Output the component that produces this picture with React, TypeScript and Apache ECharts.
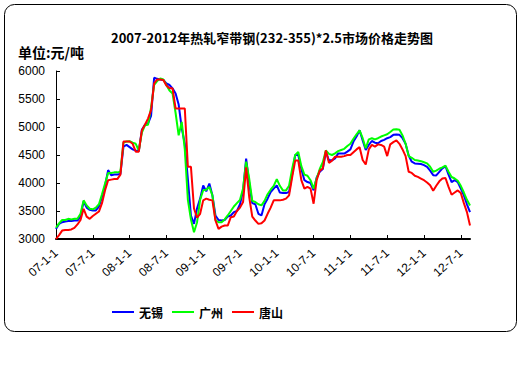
import React, { useEffect, useRef } from "react";
import * as echarts from "echarts";

const titleText = "2007-2012年热轧窄带钢(232-355)*2.5市场价格走势图";
const unitText = "单位:元/吨";
const seriesNames = ["无锡", "广州", "唐山"];
const seriesColors = ["#0000FF", "#00FF00", "#FF0000"];
const years = [2007, 2008, 2009, 2010, 2011, 2012];
const lastIndex = 135;
const yMin = 3000;
const yMax = 6000;
const yStep = 500;

// half-monthly values, 2007-01-01 .. 2012-09-16
const wuxi = [
  3180, 3270, 3300, 3310, 3320, 3320, 3330, 3330, 3400, 3670, 3560, 3520, 3510, 3510, 3580, 3750, 3950, 4230, 4140, 4150, 4150, 4160, 4650, 4680,
  4640, 4600, 4580, 4570, 4950, 5040, 5060, 5200, 5880, 5860, 5850, 5840, 5780, 5750, 5690, 5600, 5400, 4980, 4700, 4070, 3420, 3270, 3550, 3720,
  3958, 3850, 3990, 3780, 3420, 3340, 3330, 3340, 3400, 3420, 3480, 3500, 3620, 3860, 4435, 4000, 3640, 3620, 3450, 3420, 3620, 3720, 3840, 3900,
  3958, 3830, 3820, 3820, 3840, 4150, 4500, 4500, 4250, 4050, 4017, 4000, 3868, 4100, 4200, 4250, 4555, 4405, 4405, 4440, 4525, 4525, 4525, 4560,
  4600, 4740, 4830, 4943, 4760, 4590, 4680, 4750, 4720, 4710, 4750, 4770, 4800, 4820, 4860, 4865, 4860, 4800, 4700, 4490, 4380, 4350, 4345, 4340,
  4320, 4290, 4220, 4140, 4136, 4200, 4260, 4300, 4150, 4017, 4050, 4017, 3900, 3780, 3620, 3480,
];
const guangzhou = [
  3200, 3280, 3340, 3340, 3360, 3350, 3360, 3360, 3450, 3690, 3600, 3540, 3530, 3560, 3620, 3800, 3990, 4180, 4180, 4190, 4190, 4200, 4720, 4740,
  4745, 4720, 4700, 4580, 4900, 5030, 5040, 5350, 5750, 5820, 5867, 5850, 5750, 5650, 5600, 5250, 4850, 5090, 4600, 3700, 3350, 3120, 3300, 3700,
  3870, 3880, 3930, 3780, 3340, 3300, 3300, 3350, 3420, 3500, 3580, 3640, 3700, 3900, 4380, 4080, 3680, 3660, 3620, 3600, 3680, 3800, 3880, 3950,
  4070, 3950, 3868, 3868, 3950, 4250, 4500, 4555, 4300, 4150, 4130, 4050, 3900, 4080, 4250, 4370, 4580, 4520, 4500, 4530, 4570, 4590, 4610, 4660,
  4700, 4790, 4870, 4940, 4800, 4620, 4780, 4800, 4780, 4800, 4830, 4850, 4870, 4910, 4955, 4960, 4950, 4850, 4700, 4480, 4450, 4410, 4400, 4390,
  4370, 4350, 4290, 4200, 4220, 4255, 4280, 4310, 4200, 4107, 4080, 4040, 3950, 3830, 3700, 3600,
];
const tangshan = [
  3000, 3070, 3150, 3160, 3160, 3170, 3200, 3260, 3340, 3540, 3400, 3360, 3410, 3450, 3490, 3640, 3870, 4050, 4060, 4070, 4070, 4150, 4740, 4740,
  4740, 4700, 4560, 4560, 4940, 5040, 5150, 5300, 5780, 5850, 5850, 5840, 5740, 5690, 5690, 5330, 5330, 5330, 5330, 4290, 4290, 3545, 3380, 3450,
  3690, 3720, 3700, 3690, 3330, 3180, 3220, 3240, 3240, 3390, 3400, 3500, 3560, 3660, 4280, 3750, 3400, 3330, 3270, 3280, 3330, 3450, 3560, 3690,
  3690, 3690, 3700, 3720, 3780, 4100, 4400, 4400, 4050, 3900, 3930, 3900, 3630, 4050, 4220, 4260, 4580, 4360, 4400, 4470, 4470, 4470, 4480, 4500,
  4500, 4550, 4600, 4640, 4410, 4330, 4600, 4680, 4650, 4690, 4680, 4650, 4480, 4690, 4730, 4760, 4700, 4600, 4480, 4200, 4180, 4130, 4110, 4080,
  4050, 4010, 3960, 3860, 3950, 4030, 4080, 4090, 3930, 3790, 3830, 3868, 3820, 3640, 3480, 3240,
];

const categories: string[] = [];
for (let i = 0; i <= lastIndex; i++) {
  const y = years[Math.floor(i / 24)];
  const m = Math.floor((i % 24) / 2) + 1;
  const d = i % 2 === 0 ? 1 : 16;
  categories.push(`${String(y).slice(2)}-${m}-${d}`);
}

const CJK = '"Noto Sans CJK SC", "Liberation Sans", sans-serif';
const LAT = '"Liberation Sans", Arial, sans-serif';

export default function App() {
  const ref = useRef<HTMLDivElement>(null);
  useEffect(() => {
    if (!ref.current) return;
    const chart = echarts.init(ref.current, null, { renderer: "svg" });
    const data = [wuxi, guangzhou, tangshan];
    chart.setOption({
      animation: false,
      backgroundColor: "#ffffff",
      title: {
        text: titleText,
        left: 267,
        textAlign: "center",
        top: 26,
        textStyle: { fontSize: 13, fontWeight: "bold", fontFamily: CJK, color: "#000" },
      },
      graphic: [
        {
          type: "rect",
          shape: { x: 4.5, y: 4.5, width: 512, height: 327, r: 10 },
          style: { fill: "none", stroke: "#000", lineWidth: 1 },
        },
        {
          type: "text",
          x: 18,
          y: 45,
          style: { text: unitText, fontSize: 14, fontWeight: "bold", fontFamily: CJK, fill: "#000" },
        },
      ],
      legend: {
        left: 107,
        top: 301,
        icon: "rect",
        itemWidth: 22,
        itemHeight: 2,
        itemGap: 9,
        textStyle: { fontSize: 12, fontWeight: "bold", fontFamily: CJK, color: "#000" },
        data: seriesNames,
      },
      grid: { left: 56, right: 52, top: 71, bottom: 145, containLabel: false },
      xAxis: {
        type: "category",
        data: categories,
        boundaryGap: false,
        axisLine: { lineStyle: { color: "#000", width: 2 } },
        axisTick: { inside: true, length: 4, interval: 11, lineStyle: { color: "#000", width: 1 } },
        axisLabel: {
          interval: 11,
          rotate: 42,
          margin: 12,
          fontSize: 12,
          fontFamily: LAT,
          color: "#000",
          formatter: (v: string) => (v.endsWith("-16") ? "" : v),
        },
        splitLine: { show: false },
      },
      yAxis: {
        type: "value",
        min: yMin,
        max: yMax,
        interval: yStep,
        axisLine: { show: true, lineStyle: { color: "#000", width: 1 } },
        axisTick: { show: true, inside: true, length: 4, lineStyle: { color: "#000" } },
        axisLabel: {
          fontSize: 12,
          fontFamily: LAT,
          color: "#000",
          margin: 11,
          formatter: (v: number) => String(v),
        },
        splitLine: { show: false },
      },
      series: seriesNames.map((name, k) => ({
        name,
        type: "line",
        data: data[k],
        showSymbol: false,
        symbol: "none",
        color: seriesColors[k],
        lineStyle: { color: seriesColors[k], width: 2 },
      })),
    });
    return () => chart.dispose();
  }, []);
  return (
    <div
      ref={ref}
      style={{ position: "fixed", left: 0, top: 0, width: 522, height: 384, background: "#fff" }}
    />
  );
}
